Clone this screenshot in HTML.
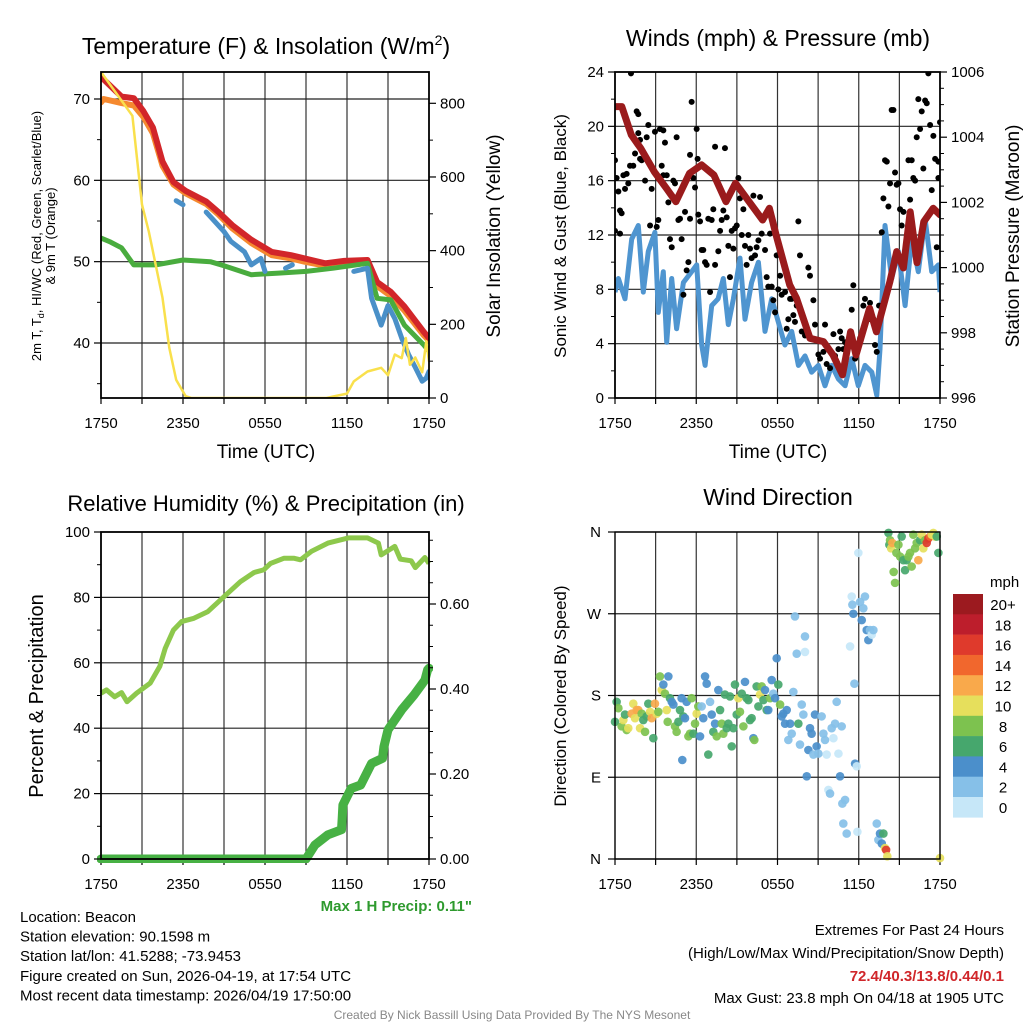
<!DOCTYPE html>
<html><head><meta charset="utf-8"><style>
html,body{margin:0;padding:0;background:#fff;}
svg{display:block;font-family:"Liberation Sans",Arial,sans-serif;}
</style></head><body>
<svg id="fig" width="1024" height="1024" viewBox="0 0 1024 1024" xmlns="http://www.w3.org/2000/svg">
<defs>
<clipPath id="c1"><rect x="101" y="72" width="328" height="326"/></clipPath>
<clipPath id="c2"><rect x="615" y="72" width="325" height="326"/></clipPath>
<clipPath id="c3"><rect x="97" y="528" width="336" height="335"/></clipPath>
<clipPath id="c4"><rect x="609" y="526" width="337" height="339"/></clipPath>
</defs>
</svg>
<script>
// ---------- DATA ----------
const timeTickLabels = ["1750","2350","0550","1150","1750"];
// Panel 1: temperature (F) & insolation
const tempHours = [0,0.2,1.5,2.4,3.1,3.8,4.5,5.3,6.2,7.7,8.6,9.6,11.0,12.5,13.9,14.9,16.4,17.8,19.5,20.2,21.2,22.2,23.6,24];
const tempRed   = [72.6,72.4,70.3,70.1,68.5,66.5,62.3,59.8,58.7,57.4,56.1,54.5,52.7,51.2,50.8,50.4,49.8,50.1,50.2,47.5,46.3,44.5,41.4,40.6];
const tempOrange= [69.6,70.0,69.5,69.2,67.8,65.8,61.8,59.5,58.4,57.1,55.8,54.1,52.3,50.8,50.4,50.0,49.5,49.8,49.9,47.0,45.8,44.0,41.0,40.3];
const dewHours  = [0,0.7,1.5,2.4,4,6,8,9,11,13,15,17,19.5,20.2,21.2,22.2,23.6,24];
const dewGreen  = [52.9,52.4,51.7,49.6,49.6,50.2,50.0,49.5,48.4,48.6,48.8,49.2,49.8,45.5,45.3,42.2,39.8,39.0];
const wcHours   = [5.5,6.0,null,7.7,9.0,9.5,10.5,11.0,11.7,12.0,null,13.5,14.0,null,18.5,19.5,19.8,20.5,21.0,21.5,22.0,22.5,23.0,23.5,23.8,24];
const wcBlue    = [57.5,57.0,null,56.1,53.7,52.5,51.2,49.6,50.4,48.8,null,49.2,49.6,null,48.8,49.2,45.5,42.2,44.6,43.0,40.6,38.6,37.0,35.3,35.7,36.5];
const solHours  = [0,1,2.3,3,3.5,4.5,5,5.5,6.2,6.6,16.5,17,18,18.5,19.5,20.5,21,21.5,22,22.3,22.6,23,23.5,23.8,24];
const solar     = [885,833,766,525,452,272,136,49,5,0,0,4,12,45,72,82,62,118,108,163,90,110,70,154,100];
// Panel 2: winds & pressure
const presHours = [0,0.5,1.2,1.9,2.9,3.8,4.5,5.5,6.4,7.3,8.2,8.9,9.9,10.9,11.4,11.9,12.9,13.4,14.4,15.4,16.1,16.8,17.4,17.8,18.8,19.3,20.3,20.8,21.3,21.8,22.3,22.8,23.5,24];
const pressure  = [1004.94,1004.94,1004.07,1003.66,1002.94,1002.43,1002.02,1002.89,1003.15,1002.84,1002.02,1002.59,1002.02,1001.46,1001.82,1001.0,999.47,999.06,997.83,997.73,997.32,996.71,998.03,997.32,998.75,998.03,999.57,1000.49,999.99,1001.71,1000.15,1001.41,1001.82,1001.62];
const windHours = [0,0.25,0.74,1.23,1.72,2.09,2.46,2.95,3.2,3.57,3.82,4.19,4.55,5.05,5.66,6.03,6.4,6.65,7.14,7.61,8.0,8.37,8.74,9.23,9.6,10.09,10.59,11.08,11.57,12.06,12.55,13.05,13.54,14.03,14.52,15.02,15.51,16.0,16.5,16.99,17.48,17.97,18.46,18.96,19.33,19.57,19.94,20.43,20.93,21.42,21.91,22.4,22.9,23.39,23.88,24];
const windSpeed = [7.8,8.8,7.3,11.7,12.7,7.8,10.8,12.2,6.3,9.3,4.1,8.8,5.1,8.5,9.3,9.8,3.9,2.4,6.8,7.3,8.8,5.4,7.3,10.3,5.8,8.5,10.0,4.9,7.3,5.6,3.9,4.9,2.4,3.1,1.9,2.4,0.9,2.4,1.4,0.9,2.9,0.9,2.4,1.9,0.2,3.6,12.7,8.8,10.8,6.8,11.7,9.3,13.2,9.3,9.8,7.8];
const gustHours = [1.18,0,0.12,0.25,0.37,0.49,0.37,0,0.62,0.74,0.86,0.98,1.11,1.35,1.48,1.6,1.72,1.85,1.97,1.72,1.85,2.22,2.34,2.46,2.59,2.71,2.95,3.08,3.2,3.32,3.45,3.57,3.69,3.57,3.82,3.94,4.06,4.19,4.31,4.43,4.55,4.68,4.8,4.92,5.05,5.17,5.29,5.42,5.54,5.66,5.54,5.79,5.91,6.03,6.1,6.15,6.28,6.4,6.52,6.65,6.77,6.89,7.02,7.14,7.26,7.39,7.39,7.63,7.76,7.88,8.0,8.12,8.25,8.37,8.49,8.62,8.74,8.86,8.99,9.11,9.23,9.36,9.48,9.6,9.72,9.85,9.97,10.09,10.22,10.34,10.46,10.59,10.71,10.83,11.08,11.2,11.32,11.45,11.57,11.69,11.82,11.94,12.06,12.19,12.31,12.56,12.68,12.8,12.93,13.05,13.17,13.29,13.42,13.54,13.66,13.79,14.03,14.28,14.4,14.65,14.77,15.02,15.14,15.39,15.51,15.63,15.88,16.13,16.25,16.5,16.62,16.74,16.86,16.99,17.11,17.48,17.6,17.73,18.1,18.34,18.46,18.71,18.83,19.08,19.2,19.33,19.5,19.7,19.82,19.94,20.07,20.19,20.31,20.43,20.56,20.68,20.8,20.93,21.05,21.17,21.3,21.54,21.67,21.79,21.91,22.03,22.16,22.28,22.4,22.53,22.65,22.77,22.9,23.02,23.14,23.27,23.39,23.51,23.64,23.76,23.88,24.0,23.88];
const gustSpeed = [23.9,17.5,16.2,15.2,13.8,13.6,12.1,12.3,16.4,15.4,16.5,15.8,17.1,17.1,18.0,21.1,20.9,17.6,17.5,19.5,19.0,16.0,19.2,20.1,12.7,15.4,19.6,12.6,13.1,19.8,17.1,19.7,18.8,16.4,16.4,14.4,11.7,11.1,16.0,15.8,19.2,13.1,13.2,11.7,7.6,13.7,9.4,10.0,13.2,21.8,17.9,16.2,15.5,19.8,17.6,13.5,13.0,10.9,10.9,10.0,9.8,13.2,7.8,13.1,13.9,9.8,18.5,10.8,12.3,13.1,13.8,18.4,13.3,11.2,8.9,12.3,11.0,12.5,12.7,16.2,14.7,12.0,13.9,11.2,9.8,12.0,11.0,10.3,14.9,10.5,11.1,11.6,14.8,12.1,10.9,8.9,8.2,12.1,8.2,7.2,6.3,10.5,8.0,9.0,7.6,7.8,5.1,5.8,7.3,7.3,6.1,5.6,6.8,13.0,10.5,4.9,4.6,9.6,9.0,7.2,5.4,3.2,2.9,3.4,5.4,2.5,2.2,4.7,3.1,3.6,4.9,4.4,3.6,4.1,3.8,6.5,8.3,2.9,4.4,6.8,7.3,5.8,7.0,5.8,3.9,3.4,6.8,12.2,14.7,17.5,17.4,14.1,15.8,21.2,21.2,16.6,15.7,15.8,13.9,12.7,13.7,11.7,17.5,14.6,17.5,16.2,16.0,19.2,22.0,19.8,21.1,16.9,21.9,21.7,23.9,20.1,15.3,19.3,17.6,11.1,16.2,20.3,17.4];
// Panel 3: RH & precipitation
const rhHours = [0,0.4,1.0,1.5,1.9,2.6,3.6,4.3,4.7,5.3,5.9,6.8,7.8,9.0,10.2,11.2,11.9,12.4,13.4,14.1,14.6,15.4,16.6,18.1,19.5,20.3,20.5,21.5,21.9,22.7,23.0,23.7,24];
const rh      = [50.7,51.7,49.6,50.9,48.1,50.7,53.8,58.9,64.4,70.0,72.6,73.6,75.6,80.2,84.8,87.6,88.4,90.4,92.0,92.0,91.5,94.1,96.6,98.2,98.2,96.6,93.0,95.6,91.7,91.2,89.1,92.2,90.4];
const pcpHours = [0,15.0,15.65,16.6,17.6,17.65,17.7,18.3,19.0,19.8,20.6,20.7,21.0,22.0,22.9,23.7,23.9,24];
const precip   = [0,0,0.033,0.057,0.069,0.096,0.127,0.166,0.174,0.225,0.237,0.264,0.304,0.351,0.386,0.421,0.445,0.449];
// Panel 4: wind direction colored by speed
const dirHours = [0,0.12,0.25,0.49,0.62,0.74,0.86,0.98,1.23,1.35,1.48,1.6,1.72,1.85,1.97,2.09,2.22,2.34,2.46,2.59,2.71,2.83,2.95,3.08,3.2,3.32,3.45,3.57,3.69,3.82,3.89,3.94,4.06,4.19,4.31,4.43,4.55,4.68,4.8,4.92,4.97,5.05,5.17,5.29,5.42,5.54,5.66,5.79,5.91,6.03,6.15,6.28,6.4,6.52,6.65,6.77,6.89,7.02,7.14,7.26,7.39,7.51,7.63,7.76,7.88,8.0,8.12,8.25,8.37,8.49,8.62,8.74,8.86,8.99,9.11,9.23,9.36,9.48,9.6,9.72,9.85,9.97,10.09,10.22,10.29,10.46,10.59,10.71,10.83,10.96,11.08,11.2,11.32,11.45,11.57,11.69,11.82,11.94,12.06,12.19,12.31,12.43,12.56,12.68,12.8,12.93,13.05,13.17,13.29,13.42,13.54,13.66,13.79,13.91,14.03,14.03,14.16,14.28,14.4,14.52,14.65,14.77,14.89,15.02,15.26,15.39,15.51,15.63,15.76,15.88,16.0,16.13,16.25,16.37,16.5,16.62,16.74,16.79,16.86,16.99,17.11,17.36,17.48,17.53,17.6,17.68,17.73,17.85,17.9,17.97,18.1,18.22,18.34,18.46,18.59,18.71,18.83,18.96,19.08,19.33,19.45,19.57,19.7,19.82,19.94,20.02,20.11,20.19,20.26,20.31,20.39,20.48,20.58,20.68,20.78,20.93,21.05,21.17,21.3,21.42,21.54,21.67,21.79,21.91,22.03,22.16,22.28,22.4,22.53,22.65,22.77,22.9,23.02,23.14,23.27,23.39,23.51,23.64,23.76,23.88,24.0,24.0,22.28];
const dirDeg   = [151,173,166,146,153,159,142,144,160,171,155,164,164,144,160,153,140,157,171,162,155,133,171,160,162,201,186,192,182,164,151,201,177,173,170,146,140,151,164,177,109,157,155,173,135,138,177,138,149,160,168,135,168,155,201,193,115,173,159,140,149,135,186,164,149,138,181,144,149,179,124,144,192,159,177,162,182,146,195,177,175,153,155,133,131,190,168,181,190,175,186,164,164,177,197,182,177,221,192,170,157,160,149,164,131,149,138,184,267,226,149,126,170,159,228,245,91,120,144,138,115,159,124,116,157,138,131,115,76,72,144,133,149,173,116,91,146,61,39,65,28,234,289,280,270,193,105,102,30,337,283,263,276,289,252,241,252,247,252,39,21,28,17,28,12,10,3,359,346,351,342,348,316,304,337,346,333,355,329,318,329,333,337,322,357,342,348,329,351,357,342,351,348,353,355,357,359,355,355,337,1];
const dirSpeed = [7,6,8,8,10,6,8,10,12,10,10,12,12,10,8,6,8,6,6,10,12,6,12,10,8,8,10,4,8,10,8,4,6,4,4,8,8,6,6,4,4,6,4,4,8,8,8,6,8,10,8,4,2,4,4,4,6,2,4,6,4,8,4,6,8,8,6,6,6,6,6,6,6,6,10,8,6,8,4,6,6,6,6,4,8,6,6,10,8,6,4,6,4,8,4,2,4,4,6,8,4,4,4,4,2,4,2,2,2,2,6,2,2,2,1,2,4,4,4,4,2,4,4,2,2,2,2,1,1,2,2,1,2,2,1,4,2,2,2,2,2,0,1,2,4,2,4,1,0,1,2,4,2,2,4,4,2,1,2,2,2,4,4,6,10,16,10,6,6,8,10,12,8,8,8,8,8,6,6,6,6,8,8,8,8,8,8,12,6,10,10,8,16,16,14,10,10,10,6,6,10,6,10];
const speedLabels = ["20+","18","16","14","12","10","8","6","4","2","0"];
const speedColors = ["#9c1a1f","#bd1e2c","#df3a2c","#f1672d","#f9a94b","#e6df5c","#7dc24f","#46a76d","#4b8fcb","#86c0e8","#c6e7f8"];

// ---------- HELPERS ----------
const NS = "http://www.w3.org/2000/svg";
const svg = document.getElementById("fig");
function mk(tag, attrs, parent) {
  const e = document.createElementNS(NS, tag);
  for (const k in attrs) e.setAttribute(k, attrs[k]);
  (parent || svg).appendChild(e);
  return e;
}
function txt(x, y, s, size, opts, parent) {
  const o = Object.assign({x:x, y:y, "font-size":size, fill:"#000"}, opts || {});
  const t = mk("text", o, parent);
  t.textContent = s;
  return t;
}
function scale(d0, d1, r0, r1) { return v => r0 + (v - d0) * (r1 - r0) / (d1 - d0); }
function linePath(xs, ys, fx, fy) {
  let d = "", pen = false;
  for (let i = 0; i < xs.length; i++) {
    if (xs[i] === null || ys[i] === null) { pen = false; continue; }
    d += (pen ? "L" : "M") + fx(xs[i]).toFixed(1) + "," + fy(ys[i]).toFixed(1);
    pen = true;
  }
  return d;
}
function frame(P, name) {
  const g = mk("g", {});
  
  
  for (let h = 3; h < 24; h += 3) {
    const x = P.fx(h);
    mk("line", {x1:x, x2:x, y1:P.y0, y2:P.y1, stroke:"#333", "stroke-width":1.2}, g);
  }
  P.hgrid.forEach(v => {
    const y = P.fy(v);
    mk("line", {x1:P.x0, x2:P.x1, y1:y, y2:y, stroke:"#222", "stroke-width":1.2}, g);
  });
  const xa = mk("g", {});
  
  
  for (let h = 0; h <= 24; h += 3) {
    const x = P.fx(h);
    mk("line", {x1:x, x2:x, y1:P.y1, y2:P.y1 + 6, stroke:"#000", "stroke-width":1.2}, xa);
  }
  timeTickLabels.forEach((s, i) => {
    const t = txt(P.fx(i * 6), P.y1 + 30, s, 15, {"text-anchor":"middle"}, xa);
    
    
  });
}
function border(P, name) {
  const r = mk("rect", {x:P.x0, y:P.y0, width:P.x1 - P.x0, height:P.y1 - P.y0, fill:"none", stroke:"#000", "stroke-width":1.8});
  
  
}
function yTicks(P, fy, majors, minors, labels, side, name) {
  const g = mk("g", {});
  
  
  const x = side === "left" ? P.x0 : P.x1;
  const dir = side === "left" ? -1 : 1;
  minors.forEach(v => mk("line", {x1:x, x2:x + dir * 4, y1:fy(v), y2:fy(v), stroke:"#000", "stroke-width":1}, g));
  majors.forEach((v, i) => {
    mk("line", {x1:x, x2:x + dir * 7, y1:fy(v), y2:fy(v), stroke:"#000", "stroke-width":1.2}, g);
    txt(x + dir * 11, fy(v) + 5, labels[i], 15, {"text-anchor": side === "left" ? "end" : "start"}, g);
  });
}
function rotLabel(x, y, s, size, name, rot) {
  const t = txt(x, y, s, size, {"text-anchor":"middle", transform:"rotate(" + (rot || -90) + " " + x + " " + y + ")"});
  
  
  return t;
}

// ---------- PANEL 1 ----------
const P1 = {x0:101, x1:429, y0:72, y1:398};
P1.fx = scale(0, 24, P1.x0, P1.x1);
P1.fy = scale(40, 70, 343, 99);
P1.hgrid = [40, 50, 60, 70];
const fSol = scale(0, 800, 398, 103.3);
frame(P1, "temperature-panel");
{
  const g = mk("g", {"clip-path":"url(#c1)"});
  
  
  const series = [
    [tempHours, tempOrange, "#f5892f", 6, P1.fy, "nine-m-temp-line"],
    [tempHours, tempRed, "#d2262a", 6, P1.fy, "two-m-temp-line"],
    [dewHours, dewGreen, "#49ac3e", 5, P1.fy, "dewpoint-line"],
    [wcHours, wcBlue, "#4a90c8", 5, P1.fy, "windchill-line"],
    [solHours, solar, "#f9e04c", 2.5, fSol, "insolation-line"]
  ];
  series.forEach(s => {
    const p = mk("path", {d:linePath(s[0], s[1], P1.fx, s[4]), fill:"none", stroke:s[2], "stroke-width":s[3], "stroke-linejoin":"round", "stroke-linecap":"round"}, g);
    
    
  });
}
border(P1, "temperature-panel");
yTicks(P1, P1.fy, [40,50,60,70], [35,45,55,65], ["40","50","60","70"], "left", "temperature-y-axis");
yTicks(P1, fSol, [0,200,400,600,800], [100,300,500,700], ["0","200","400","600","800"], "right", "insolation-y-axis");
{
  const t = txt(266, 54, "Temperature (F) & Insolation (W/m", 23, {"text-anchor":"middle"});
  const sup = mk("tspan", {"font-size":14, dy:-9}, t); sup.textContent = "2";
  const cl = mk("tspan", {dy:9}, t); cl.textContent = ")";
  
  
}
{
  const t = txt(41, 236, "", 13, {"text-anchor":"middle", transform:"rotate(-90 41 236)"});
  t.innerHTML = '2m T, T<tspan font-size="9" dy="3">d</tspan><tspan dy="-3">, HI/WC (Red, Green, Scarlet/Blue)</tspan>';
  
  
  rotLabel(55, 236, "& 9m T (Orange)", 13, "temperature-y-axis-title-line2");
}
rotLabel(500, 236, "Solar Insolation (Yellow)", 19, "insolation-y-axis-title", -90);
{ const t = txt(266, 458, "Time (UTC)", 19, {"text-anchor":"middle"});   }

// ---------- PANEL 2 ----------
const P2 = {x0:615, x1:940, y0:72, y1:398};
P2.fx = scale(0, 24, P2.x0, P2.x1);
P2.fy = scale(0, 24, 398, 72);
P2.hgrid = [4, 8, 12, 16, 20];
const fPres = scale(996, 1006, 398, 72);
frame(P2, "winds-panel");
{
  const g = mk("g", {"clip-path":"url(#c2)"});
  
  
  const wl = mk("path", {d:linePath(windHours, windSpeed, P2.fx, P2.fy), fill:"none", stroke:"#4f95d0", "stroke-width":5, "stroke-linejoin":"round"}, g);
  
  
  gustHours.forEach((h, i) => {
    const c = mk("circle", {cx:P2.fx(h), cy:P2.fy(gustSpeed[i]), r:3, fill:"#000"}, g);
    
    
  });
  const pl = mk("path", {d:linePath(presHours, pressure, P2.fx, fPres), fill:"none", stroke:"#9a1b1c", "stroke-width":7, "stroke-linejoin":"round", "stroke-linecap":"round"}, g);
  
  
}
border(P2, "winds-panel");
yTicks(P2, P2.fy, [0,4,8,12,16,20,24], [2,6,10,14,18,22], ["0","4","8","12","16","20","24"], "left", "wind-y-axis");
yTicks(P2, fPres, [996,998,1000,1002,1004,1006], [996.5,997,997.5,998.5,999,999.5,1000.5,1001,1001.5,1002.5,1003,1003.5,1004.5,1005,1005.5], ["996","998","1000","1002","1004","1006"], "right", "pressure-y-axis");
{ const t = txt(778, 46, "Winds (mph) & Pressure (mb)", 23, {"text-anchor":"middle"});   }
rotLabel(566, 236, "Sonic Wind & Gust (Blue, Black)", 17, "wind-y-axis-title");
rotLabel(1019, 236, "Station Pressure (Maroon)", 19, "pressure-y-axis-title");
{ const t = txt(778, 458, "Time (UTC)", 19, {"text-anchor":"middle"});   }

// ---------- PANEL 3 ----------
const P3 = {x0:101, x1:429, y0:532, y1:859};
P3.fx = scale(0, 24, P3.x0, P3.x1);
P3.fy = scale(0, 100, 859, 532);
P3.hgrid = [20, 40, 60, 80];
const fPcp = scale(0, 0.2, 859, 774);
frame(P3, "humidity-panel");
{
  const g = mk("g", {"clip-path":"url(#c3)"});
  
  
  const r = mk("path", {d:linePath(rhHours, rh, P3.fx, P3.fy), fill:"none", stroke:"#8dc84c", "stroke-width":5, "stroke-linejoin":"round"}, g);
  
  
  const p = mk("path", {d:linePath(pcpHours, precip, P3.fx, fPcp), fill:"none", stroke:"#47b144", "stroke-width":9, "stroke-linejoin":"round", "stroke-linecap":"round"}, g);
  
  
}
border(P3, "humidity-panel");
yTicks(P3, P3.fy, [0,20,40,60,80,100], [10,30,50,70,90], ["0","20","40","60","80","100"], "left", "humidity-y-axis");
yTicks(P3, fPcp, [0,0.2,0.4,0.6], [0.05,0.1,0.15,0.25,0.3,0.35,0.45,0.5,0.55,0.65,0.7,0.75], ["0.00","0.20","0.40","0.60"], "right", "precip-y-axis");
{ const t = txt(266, 511, "Relative Humidity (%) & Precipitation (in)", 22, {"text-anchor":"middle"});   }
rotLabel(43, 696, "Percent & Precipitation", 20, "humidity-y-axis-title");
{ const t = txt(472, 911, "Max 1 H Precip: 0.11\"", 15, {"text-anchor":"end", fill:"#2e9a2e", "font-weight":"bold"});   }

// ---------- PANEL 4 ----------
const P4 = {x0:615, x1:940, y0:532, y1:859};
P4.fx = scale(0, 24, P4.x0, P4.x1);
P4.fy = scale(0, 360, 859, 532);
P4.hgrid = [90, 180, 270, 360, 0];
frame(P4, "direction-panel");
function speedColor(s) {
  const idx = s >= 20 ? 0 : 10 - Math.floor(s / 2);
  return speedColors[Math.max(0, Math.min(10, idx))];
}
{
  const g = mk("g", {"clip-path":"url(#c4)"});
  
  
  dirHours.forEach((h, i) => {
    const c = mk("circle", {cx:P4.fx(h), cy:P4.fy(dirDeg[i]), r:4.3, fill:speedColor(dirSpeed[i]), "fill-opacity":0.92}, g);
    
    
  });
}
{
  const g = mk("g", {});
  
  
  const dl = ["N","E","S","W","N"];
  [0,90,180,270,360].forEach((v, i) => {
    const y = P4.fy(v);
    mk("line", {x1:P4.x0, x2:P4.x0 - 7, y1:y, y2:y, stroke:"#000", "stroke-width":1.2}, g);
    txt(P4.x0 - 14, y + 5, dl[i], 15, {"text-anchor":"end"}, g);
  });
}
{
  const r = mk("rect", {x:P4.x0, y:P4.y0, width:P4.x1 - P4.x0, height:P4.y1 - P4.y0, fill:"none", stroke:"#000", "stroke-width":1.4});
  
  
}
{ const t = txt(778, 505, "Wind Direction", 23, {"text-anchor":"middle"});   }
rotLabel(566, 696, "Direction (Colored By Speed)", 17, "direction-y-axis-title");
{
  const g = mk("g", {});
  
  
  txt(990, 587, "mph", 15, {}, g);
  speedLabels.forEach((s, i) => {
    const y0 = 594 + i * 20.3;
    const r = mk("rect", {x:953, y:y0, width:30, height:20.6, fill:speedColors[i]}, g);
    
    
    txt(1003, y0 + 16, s, 15, {"text-anchor":"middle"}, g);
  });
}

// ---------- FOOTER TEXT ----------
{
  const g = mk("g", {});
  
  
  const lines = ["Location: Beacon","Station elevation: 90.1598 m","Station lat/lon: 41.5288; -73.9453","Figure created on Sun, 2026-04-19, at 17:54 UTC","Most recent data timestamp: 2026/04/19 17:50:00"];
  lines.forEach((s, i) => txt(20, 922 + i * 19.6, s, 15, {}, g));
}
{
  const g = mk("g", {});
  
  
  txt(1004, 935, "Extremes For Past 24 Hours", 15, {"text-anchor":"end"}, g);
  txt(1004, 958, "(High/Low/Max Wind/Precipitation/Snow Depth)", 15, {"text-anchor":"end"}, g);
  txt(1004, 981, "72.4/40.3/13.8/0.44/0.1", 15, {"text-anchor":"end", fill:"#d0262a", "font-weight":"bold"}, g);
  txt(1004, 1003, "Max Gust: 23.8 mph On 04/18 at 1905 UTC", 15, {"text-anchor":"end"}, g);
}
{ const t = txt(512, 1019, "Created By Nick Bassill Using Data Provided By The NYS Mesonet", 12, {"text-anchor":"middle", fill:"#888"});   }
</script>
</body></html>
